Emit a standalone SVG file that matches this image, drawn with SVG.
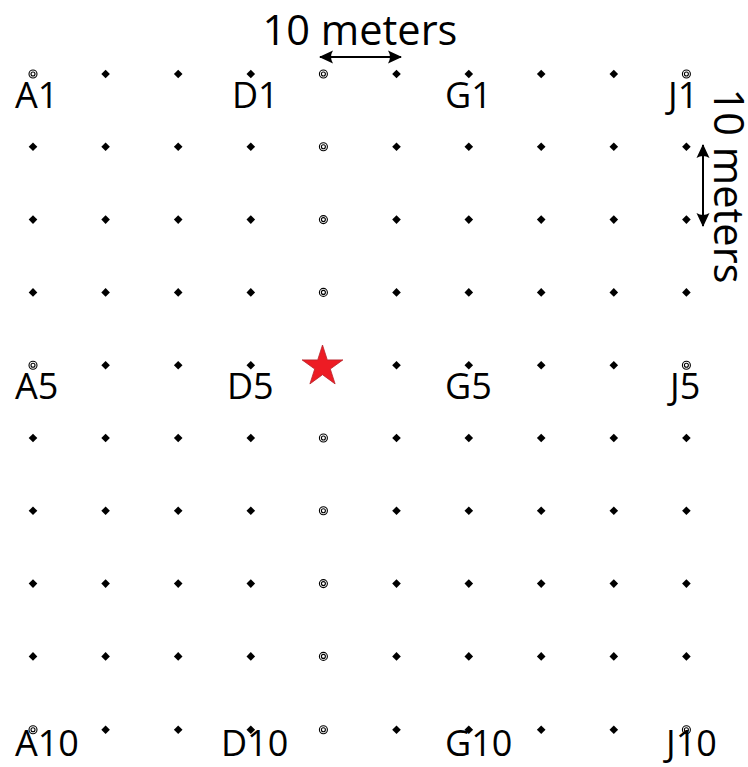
<svg xmlns="http://www.w3.org/2000/svg" xmlns:xlink="http://www.w3.org/1999/xlink" width="748" height="767" viewBox="0 0 748 767">
<style>
.lbl{font-family:"Open Sans","Noto Sans",sans-serif;font-size:36px;fill:#000}
.dim{font-family:"Open Sans","Noto Sans",sans-serif;font-size:41.5px;fill:#000}
.ring{fill:none;stroke:#000;stroke-width:1.1}
.dline{stroke:#000;stroke-width:2;fill:none}
</style>
<defs>
<path id="dia" d="M0,-4.3 L4.3,0 L0,4.3 L-4.3,0 Z" fill="#000"/>
<g id="rng"><circle class="ring" r="4"/><circle class="ring" r="2"/></g>
<marker id="ah" viewBox="-14 -7 16 14" refX="0" refY="0" markerWidth="16" markerHeight="14" markerUnits="userSpaceOnUse" orient="auto-start-reverse">
<path d="M1,0 L-13,-6.5 Q-9,0 -13,6.5 Z" fill="#000"/>
</marker>
</defs>
<rect width="748" height="767" fill="#fff"/>
<g id="grid">
<g id="A1"><use href="#rng" x="33" y="74"/><text class="lbl" x="15" y="108">A1</text></g>
<g id="B1"><use href="#dia" x="105.6" y="74"/></g>
<g id="C1"><use href="#dia" x="178.2" y="74"/></g>
<g id="D1"><use href="#dia" x="250.8" y="74"/><text class="lbl" x="232" y="108">D1</text></g>
<g id="E1"><use href="#rng" x="323.4" y="74"/></g>
<g id="F1"><use href="#dia" x="396.5" y="74"/></g>
<g id="G1"><use href="#dia" x="468.8" y="74"/><text class="lbl" x="445" y="108">G1</text></g>
<g id="H1"><use href="#dia" x="541.2" y="74"/></g>
<g id="I1"><use href="#dia" x="613.8" y="74"/></g>
<g id="J1"><use href="#rng" x="686.4" y="74"/><text class="lbl" x="668" y="108">J1</text></g>

<g id="A2"><use href="#dia" x="33" y="146.8"/></g>
<g id="B2"><use href="#dia" x="105.6" y="146.8"/></g>
<g id="C2"><use href="#dia" x="178.2" y="146.8"/></g>
<g id="D2"><use href="#dia" x="250.8" y="146.8"/></g>
<g id="E2"><use href="#rng" x="323.4" y="146.8"/></g>
<g id="F2"><use href="#dia" x="396.5" y="146.8"/></g>
<g id="G2"><use href="#dia" x="468.8" y="146.8"/></g>
<g id="H2"><use href="#dia" x="541.2" y="146.8"/></g>
<g id="I2"><use href="#dia" x="613.8" y="146.8"/></g>
<g id="J2"><use href="#dia" x="686.4" y="146.8"/></g>

<g id="A3"><use href="#dia" x="33" y="219.6"/></g>
<g id="B3"><use href="#dia" x="105.6" y="219.6"/></g>
<g id="C3"><use href="#dia" x="178.2" y="219.6"/></g>
<g id="D3"><use href="#dia" x="250.8" y="219.6"/></g>
<g id="E3"><use href="#rng" x="323.4" y="219.6"/></g>
<g id="F3"><use href="#dia" x="396.5" y="219.6"/></g>
<g id="G3"><use href="#dia" x="468.8" y="219.6"/></g>
<g id="H3"><use href="#dia" x="541.2" y="219.6"/></g>
<g id="I3"><use href="#dia" x="613.8" y="219.6"/></g>
<g id="J3"><use href="#dia" x="686.4" y="219.6"/></g>

<g id="A4"><use href="#dia" x="33" y="292.4"/></g>
<g id="B4"><use href="#dia" x="105.6" y="292.4"/></g>
<g id="C4"><use href="#dia" x="178.2" y="292.4"/></g>
<g id="D4"><use href="#dia" x="250.8" y="292.4"/></g>
<g id="E4"><use href="#rng" x="323.4" y="292.4"/></g>
<g id="F4"><use href="#dia" x="396.5" y="292.4"/></g>
<g id="G4"><use href="#dia" x="468.8" y="292.4"/></g>
<g id="H4"><use href="#dia" x="541.2" y="292.4"/></g>
<g id="I4"><use href="#dia" x="613.8" y="292.4"/></g>
<g id="J4"><use href="#dia" x="686.4" y="292.4"/></g>

<g id="A5"><use href="#rng" x="33" y="365.2"/><text class="lbl" x="15" y="399">A5</text></g>
<g id="B5"><use href="#dia" x="105.6" y="365.2"/></g>
<g id="C5"><use href="#dia" x="178.2" y="365.2"/></g>
<g id="D5"><use href="#dia" x="250.8" y="365.2"/><text class="lbl" x="227" y="399">D5</text></g>
<g id="E5"><path d="M322.5,345 L327.3,359.9 L342.9,359.9 L330.3,369 L335.1,383.9 L322.5,374.7 L309.9,383.9 L314.7,369 L302.1,359.9 L317.7,359.9 Z" fill="#ed1c24" stroke="#b8242c" stroke-width="0.8" stroke-linejoin="miter"/></g>
<g id="F5"><use href="#dia" x="396.5" y="365.2"/></g>
<g id="G5"><use href="#dia" x="468.8" y="365.2"/><text class="lbl" x="445" y="399">G5</text></g>
<g id="H5"><use href="#dia" x="541.2" y="365.2"/></g>
<g id="I5"><use href="#dia" x="613.8" y="365.2"/></g>
<g id="J5"><use href="#rng" x="686.4" y="365.2"/><text class="lbl" x="670" y="399">J5</text></g>

<g id="A6"><use href="#dia" x="33" y="438"/></g>
<g id="B6"><use href="#dia" x="105.6" y="438"/></g>
<g id="C6"><use href="#dia" x="178.2" y="438"/></g>
<g id="D6"><use href="#dia" x="250.8" y="438"/></g>
<g id="E6"><use href="#rng" x="323.4" y="438"/></g>
<g id="F6"><use href="#dia" x="396.5" y="438"/></g>
<g id="G6"><use href="#dia" x="468.8" y="438"/></g>
<g id="H6"><use href="#dia" x="541.2" y="438"/></g>
<g id="I6"><use href="#dia" x="613.8" y="438"/></g>
<g id="J6"><use href="#dia" x="686.4" y="438"/></g>

<g id="A7"><use href="#dia" x="33" y="510.8"/></g>
<g id="B7"><use href="#dia" x="105.6" y="510.8"/></g>
<g id="C7"><use href="#dia" x="178.2" y="510.8"/></g>
<g id="D7"><use href="#dia" x="250.8" y="510.8"/></g>
<g id="E7"><use href="#rng" x="323.4" y="510.8"/></g>
<g id="F7"><use href="#dia" x="396.5" y="510.8"/></g>
<g id="G7"><use href="#dia" x="468.8" y="510.8"/></g>
<g id="H7"><use href="#dia" x="541.2" y="510.8"/></g>
<g id="I7"><use href="#dia" x="613.8" y="510.8"/></g>
<g id="J7"><use href="#dia" x="686.4" y="510.8"/></g>

<g id="A8"><use href="#dia" x="33" y="583.6"/></g>
<g id="B8"><use href="#dia" x="105.6" y="583.6"/></g>
<g id="C8"><use href="#dia" x="178.2" y="583.6"/></g>
<g id="D8"><use href="#dia" x="250.8" y="583.6"/></g>
<g id="E8"><use href="#rng" x="323.4" y="583.6"/></g>
<g id="F8"><use href="#dia" x="396.5" y="583.6"/></g>
<g id="G8"><use href="#dia" x="468.8" y="583.6"/></g>
<g id="H8"><use href="#dia" x="541.2" y="583.6"/></g>
<g id="I8"><use href="#dia" x="613.8" y="583.6"/></g>
<g id="J8"><use href="#dia" x="686.4" y="583.6"/></g>

<g id="A9"><use href="#dia" x="33" y="656.4"/></g>
<g id="B9"><use href="#dia" x="105.6" y="656.4"/></g>
<g id="C9"><use href="#dia" x="178.2" y="656.4"/></g>
<g id="D9"><use href="#dia" x="250.8" y="656.4"/></g>
<g id="E9"><use href="#rng" x="323.4" y="656.4"/></g>
<g id="F9"><use href="#dia" x="396.5" y="656.4"/></g>
<g id="G9"><use href="#dia" x="468.8" y="656.4"/></g>
<g id="H9"><use href="#dia" x="541.2" y="656.4"/></g>
<g id="I9"><use href="#dia" x="613.8" y="656.4"/></g>
<g id="J9"><use href="#dia" x="686.4" y="656.4"/></g>

<g id="A10"><use href="#rng" x="33" y="729.8"/><text class="lbl" x="15" y="756">A10</text></g>
<g id="B10"><use href="#dia" x="105.6" y="729.8"/></g>
<g id="C10"><use href="#dia" x="178.2" y="729.8"/></g>
<g id="D10"><use href="#dia" x="250.8" y="729.8"/><text class="lbl" x="221" y="756">D10</text></g>
<g id="E10"><use href="#rng" x="323.4" y="729.8"/></g>
<g id="F10"><use href="#dia" x="396.5" y="729.8"/></g>
<g id="G10"><use href="#dia" x="468.8" y="729.8"/><text class="lbl" x="445" y="756">G10</text></g>
<g id="H10"><use href="#dia" x="541.2" y="729.8"/></g>
<g id="I10"><use href="#dia" x="613.8" y="729.8"/></g>
<g id="J10"><use href="#rng" x="686.4" y="729.8"/><text class="lbl" x="666" y="756">J10</text></g>
</g>
<g id="connectors">
<path class="dline" d="M320,57 L401,57" marker-start="url(#ah)" marker-end="url(#ah)"/>
<path class="dline" d="M703,145 L703,226" marker-start="url(#ah)" marker-end="url(#ah)"/>
</g>
<g id="dimension-labels">
<text class="dim" x="360" y="44.5" text-anchor="middle">10 meters</text>
<text class="dim" transform="translate(714,186) rotate(90)" text-anchor="middle">10 meters</text>
</g>
</svg>
